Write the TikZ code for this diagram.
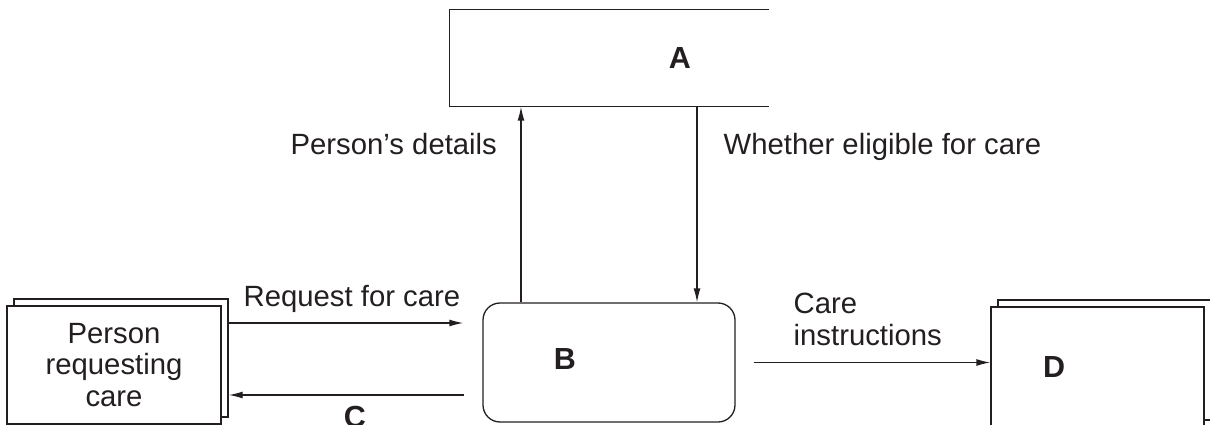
\documentclass[tikz,border=0pt]{standalone}
\usepackage{fontspec}
\setmainfont{Liberation Sans}
\usetikzlibrary{arrows.meta,shadows}
\definecolor{ink}{HTML}{231F20}

\begin{document}
\begin{tikzpicture}[x=1pt,y=-1pt,color=ink,line width=1.3pt,
    every node/.style={font=\fontsize{29.3}{31.5}\selectfont,inner sep=0pt},
    flow/.style={-{Latex[length=14pt,width=7pt]}},
    entity/.style={draw,fill=white,minimum width=214pt,minimum height=118pt,align=center,
      copy shadow={shadow xshift=7pt,shadow yshift=7pt}},
    process/.style={draw,rounded corners=17pt,minimum width=252pt,minimum height=119pt},
    letter/.style={font=\fontsize{30.5}{32}\selectfont\bfseries}]
  \clip (0,0) rectangle (1210,425);

  % Draw data store A (open at the right)
  \node[minimum width=318pt,minimum height=96pt] (storea) at (609,58) {};
  \draw (storea.north east) -- (storea.north west) -- (storea.south west) -- (storea.south east);
  \node[letter] (lbla) at (680,58) {A};

  % Draw process B
  \node[process] (procb) at (609,362.5) {};
  \node[letter] (lblb) at (565,359) {B};

  % Draw the two external entities
  \node[entity] (person) at (114,365) {Person\\requesting\\care};
  \node[entity,minimum width=213pt,minimum height=120pt] (outd) at (1097.5,367) {};
  \node[letter] (lbld) at (1054,367) {D};

  % Draw flows between B and A
  \draw[flow] (procb.north -| 521,0) -- (storea.south -| 521,0);
  \draw[flow] (storea.south -| 697,0) -- (procb.north -| 697,0);
  \node[anchor=base west] (detl) at (290,154) {Person’s details};
  \node[anchor=base west] (elig) at (723,154) {Whether eligible for care};

  % Draw flows between the person and B
  \draw[flow] ([xshift=7pt,yshift=42pt]person.east) -- ([xshift=-19pt,yshift=39.5pt]procb.west);
  \node[anchor=base west] (reql) at (243,306) {Request for care};
  \draw[flow] ([xshift=-18pt,yshift=-32.5pt]procb.west) -- ([xshift=7pt,yshift=-30pt]person.east);
  \node[letter,anchor=north] (lblc) at (355,406) {C};

  % Draw flow from B to D
  \draw[flow] ([xshift=18pt]procb.east) -- (outd.west |- procb.east);
  \node[anchor=base west,align=left] (instr) at (793,345) {Care\\instructions};
\end{tikzpicture}
\end{document}
